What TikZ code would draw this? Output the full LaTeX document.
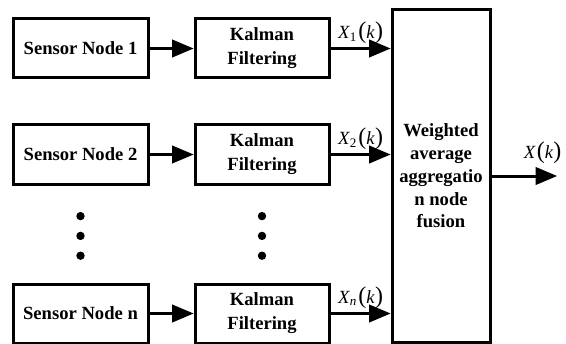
\documentclass[tikz,border=0pt]{standalone}
\usepackage{fontspec}
\setmainfont{Liberation Serif}
\usetikzlibrary{arrows, positioning}

\newcommand{\sigX}[1]{\textit{X}\textsubscript{#1}\kern0.5pt{\large(}\textit{k}{\large)}}

\begin{document}
\begin{tikzpicture}
  [
  block/.style = {rectangle, draw, line width = 1.5pt,
    minimum height = 29.5pt, minimum width = 67.5pt,
    align = center, font = \fontsize{9.3}{12}\selectfont\bfseries},
  % fusion box
  fusebox/.style = {rectangle, draw, line width = 1.5pt,
    minimum height = 166pt, minimum width = 49pt,
    align = center, font = \fontsize{9.3}{11.4}\selectfont\bfseries},
  % dots
  dot/.style = {circle, fill, inner sep = 0pt, minimum size = 4.2pt},
  % signal label
  sig/.style = {font = \fontsize{9.3}{11}\selectfont, inner sep = 1.5pt},
  % line
  line/.style = {draw, line width = 1.5pt, -triangle 45},
  ]
  \useasboundingbox (0,0) rectangle (283pt,171.5pt);

  % nodes
  \node [block] (sens1) at (40.25pt,147.25pt) {Sensor Node 1};
  \node [block, right= 22pt of sens1, minimum width = 67pt] (kal1) {Kalman\\Filtering};
  \node [block, below= 22pt of sens1] (sens2) {Sensor Node 2};
  \node [block, right= 22pt of sens2, minimum width = 67pt] (kal2) {Kalman\\Filtering};
  \node [block, below= 48.5pt of sens2] (sensn) {Sensor Node n};
  \node [block, right= 22pt of sensn, minimum width = 67pt] (kaln) {Kalman\\Filtering};
  \node [fusebox] (fuse) at (220.5pt,83.5pt) {Weighted\\average\\aggregatio\\n node\\fusion};
  \coordinate (out) at (278.5pt,83.5pt);

  % dots
  \node [dot, below= 13pt of sens2] (sdot1) {};
  \node [dot, below= 5.3pt of sdot1] (sdot2) {};
  \node [dot, below= 5.3pt of sdot2] (sdot3) {};
  \node [dot, below= 13pt of kal2] (kdot1) {};
  \node [dot, below= 5.3pt of kdot1] (kdot2) {};
  \node [dot, below= 5.3pt of kdot2] (kdot3) {};

  % path
  \path [line] (sens1) -- (kal1);
  \path [line] (sens2) -- (kal2);
  \path [line] (sensn) -- (kaln);
  \path [line] (kal1) -- (kal1 -| fuse.west) node [sig, midway, above] {\sigX{1}};
  \path [line] (kal2) -- (kal2 -| fuse.west) node [sig, midway, above] {\sigX{2}};
  \path [line] (kaln) -- (kaln -| fuse.west) node [sig, midway, above] {\sigX{\textit{n}}};
  \path [line] (fuse.east) -- (out) node [sig, pos = 0.78, above = 4pt] {\textit{X}\kern0.5pt{\large(}\textit{k}{\large)}};

\end{tikzpicture}
\end{document}
